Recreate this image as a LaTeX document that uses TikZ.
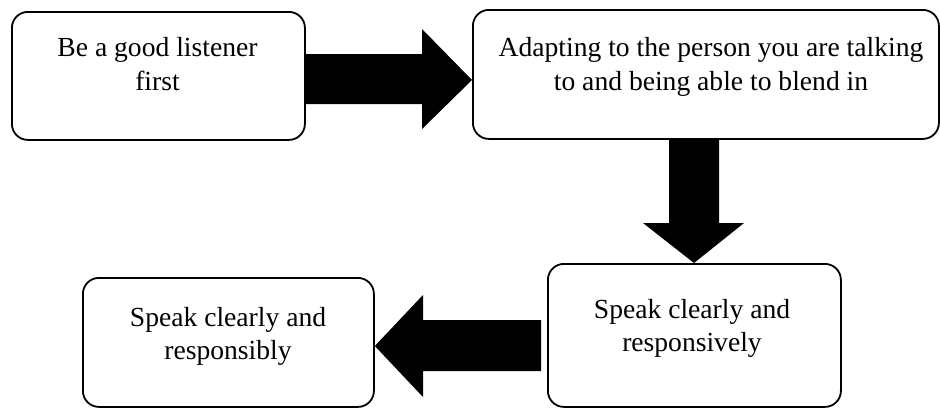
\documentclass[tikz,border=0pt]{standalone}
\usepackage{fontspec}
\setmainfont{Liberation Serif}
\begin{document}
\begin{tikzpicture}[x=1pt,y=-1pt,
  box/.style={draw=black, line width=1.8pt, rounded corners=16pt, inner sep=0pt, anchor=north west, fill=white},
  txt/.style={anchor=base, inner sep=0pt, text width=470pt, align=flush center, font=\fontsize{27.6}{33.5}\selectfont},
  blockarrow/.style={fill=black}]
\useasboundingbox (0,0) rectangle (940,408);
\node[box, minimum width=293pt, minimum height=128pt] (b1) at (11,11) {};
\node[box, minimum width=466pt, minimum height=129pt] (b2) at (472,9) {};
\node[box, minimum width=293pt, minimum height=143pt] (b3) at (547,263) {};
\node[box, minimum width=291pt, minimum height=129pt] (b4) at (82,277) {};
\node[txt] (t1) at (157.5,56.5) {Be a good listener\\first};
\node[txt] (t2) at (711,56.5) {Adapting to the person you are talking\\to and being able to blend in};
\node[txt] (t3) at (692,318) {Speak clearly and\\responsively};
\node[txt] (t4) at (228,326) {Speak clearly and\\responsibly};
% right arrow b1 -> b2
\fill[blockarrow] (b1.east |- 0,54) -- (422,54) -- (422,29) -- (b2.west |- 0,80) -- (422,129) -- (422,104) -- (b1.east |- 0,104) -- cycle;
% down arrow b2 -> b3
\fill[blockarrow] (669,0 |- b2.south) -- (669,223) -- (643,223) -- (694,0 |- b3.north) -- (744,223) -- (719,223) -- (719,0 |- b2.south) -- cycle;
% left arrow b3 -> b4
\fill[blockarrow] (541,320) -- (423,320) -- (423,295) -- (b4.east |- 0,346) -- (423,397) -- (423,371) -- (541,371) -- cycle;
\end{tikzpicture}
\end{document}
